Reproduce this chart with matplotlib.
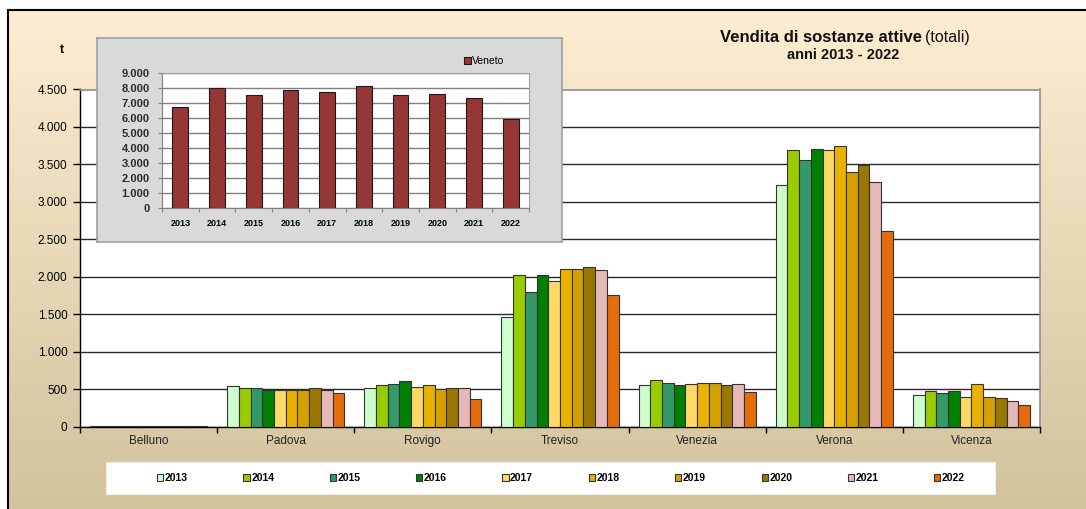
import matplotlib.pyplot as plt
import matplotlib as mpl
import numpy as np
from matplotlib.patches import Rectangle
from matplotlib.lines import Line2D
from matplotlib.ticker import FuncFormatter, FixedLocator

mpl.rcParams['font.family'] = ['Liberation Sans', 'DejaVu Sans']

# data (t)
anni = ['2013', '2014', '2015', '2016', '2017', '2018', '2019', '2020', '2021', '2022']
province = ['Belluno', 'Padova', 'Rovigo', 'Treviso', 'Venezia', 'Verona', 'Vicenza']
belluno = [14, 14, 13, 13, 13, 14, 13, 13, 13, 12]
padova = [544, 517, 517, 495, 490, 490, 490, 517, 490, 447]
rovigo = [513, 557, 575, 607, 535, 557, 500, 513, 513, 366]
treviso = [1469, 2021, 1798, 2021, 1945, 2110, 2110, 2136, 2092, 1762]
venezia = [557, 624, 588, 557, 571, 588, 588, 557, 571, 459]
verona = [3227, 3694, 3565, 3708, 3694, 3752, 3401, 3494, 3267, 2617]
vicenza = [423, 477, 446, 477, 401, 571, 401, 383, 347, 294]
veneto = [6743, 7965, 7500, 7852, 7699, 8137, 7500, 7586, 7301, 5927]

colori = ['#CCFFCC', '#99CC00', '#339966', '#008000', '#FFD966',
          '#E9B200', '#D5A100', '#997700', '#E6B8B7', '#E46C0A']

W, H = 1086, 509
fig = plt.figure(figsize=(W / 100, H / 100), dpi=100, facecolor='white')


def fx(px):
    return px / W


def fy(py):
    return 1 - py / H


def migliaia(v, p):
    return f'{int(v):,}'.replace(',', '.')


# background with gradient
bg = fig.add_axes([fx(8), 0, 1 - fx(8), fy(10)], zorder=-10)
top = np.array([253, 237, 210]) / 255
bot = np.array([210, 195, 157]) / 255
t = np.linspace(0, 1, 256)[:, None]
grad = (top[None, :] * (1 - t) + bot[None, :] * t)[:, None, :]
bg.imshow(grad, aspect='auto', extent=[0, 1, 0, 1])
bg.set_axis_off()
fig.add_artist(Line2D([fx(8), 1], [fy(10), fy(10)], color='black', lw=1.5))
fig.add_artist(Line2D([fx(8), fx(8)], [0, fy(10)], color='black', lw=1.5))

# main chart
ax = fig.add_axes([fx(80), fy(426.7), fx(1040) - fx(80), fy(89.5) - fy(426.7)])
ax.set_facecolor('white')
valori = np.array([belluno, padova, rovigo, treviso, venezia, verona, vicenza])
x = np.arange(len(province))
n = len(anni)
bw = 0.854 / n
for i in range(n):
    ax.bar(x - 0.427 + bw * (i + 0.5), valori[:, i], width=bw, color=colori[i],
           edgecolor='#333333', linewidth=0.8, zorder=3, label=anni[i])
ax.set_xlim(-0.5, len(province) - 0.5)
ax.set_ylim(0, 4500)
ax.set_yticks(np.arange(0, 4501, 500))
ax.yaxis.set_major_formatter(FuncFormatter(migliaia))
ax.yaxis.grid(True, color='#2A2A2A', linewidth=1)
ax.set_axisbelow(True)
ax.xaxis.set_major_locator(FixedLocator(np.arange(-0.5, len(province), 1)))
ax.xaxis.set_minor_locator(FixedLocator(x))
ax.set_xticklabels([])
ax.set_xticklabels(province, minor=True)
ax.tick_params(axis='x', which='minor', length=0, pad=6, labelsize=8.5, labelcolor='#222222')
ax.tick_params(axis='x', which='major', length=4, width=1, direction='out')
ax.tick_params(axis='y', length=5, width=1, direction='out', labelsize=8.5, pad=4)
for s in ['left', 'bottom']:
    ax.spines[s].set_color('black')
    ax.spines[s].set_linewidth(1)
for s in ['top', 'right']:
    ax.spines[s].set_color('#909090')
    ax.spines[s].set_linewidth(1.2)

fig.text(fx(62), fy(50), 't', fontsize=9, fontweight='bold', ha='center', va='center')

# title
fig.text(fx(922), fy(37.5), 'Vendita di sostanze attive', fontsize=12, fontweight='bold',
         ha='right', va='center', color='#111111')
fig.text(fx(925), fy(37.5), '(totali)', fontsize=11.5, ha='left', va='center', color='#111111')
fig.text(fx(843), fy(55), 'anni 2013 - 2022', fontsize=10.5, fontweight='bold',
         ha='center', va='center', color='#111111')

# legend
fig.add_artist(Rectangle((fx(106), fy(494)), fx(995) - fx(106), fy(462) - fy(494),
                         transform=fig.transFigure, facecolor='white', edgecolor='#EEEEEE', lw=0.8))
handles, labels = ax.get_legend_handles_labels()
fig.legend(handles, labels, loc='center', ncol=n, mode='expand',
           bbox_to_anchor=(fx(157), fy(494), fx(965) - fx(157), fy(462) - fy(494)),
           frameon=False, handlelength=0.6, handleheight=0.6,
           handletextpad=0.15, borderaxespad=0, borderpad=0,
           prop={'family': ['Liberation Sans Narrow', 'Liberation Sans'], 'weight': 'bold', 'size': 7.5})

# inset: Veneto
box = fig.add_axes([fx(97), fy(242), fx(562) - fx(97), fy(38) - fy(242)], zorder=5)
box.set_facecolor('#D9D9D9')
box.set_xticks([])
box.set_yticks([])
for s in box.spines.values():
    s.set_color('#A0A0A0')
    s.set_linewidth(1.2)

ins = fig.add_axes([fx(162), fy(208.3), fx(529) - fx(162), fy(72.7) - fy(208.3)], zorder=6)
ins.set_facecolor('white')
xi = np.arange(len(anni))
ins.bar(xi, veneto, width=0.43, color='#953735', edgecolor='#1A1A1A', linewidth=0.8,
        zorder=3, label='Veneto')
ins.set_xlim(-0.5, len(anni) - 0.5)
ins.set_ylim(0, 9000)
ins.set_yticks(np.arange(0, 9001, 1000))
ins.yaxis.set_major_formatter(FuncFormatter(migliaia))
ins.yaxis.grid(True, color='#808080', linewidth=1)
ins.set_axisbelow(True)
ins.xaxis.set_major_locator(FixedLocator(np.arange(-0.5, len(anni), 1)))
ins.xaxis.set_minor_locator(FixedLocator(xi))
ins.set_xticklabels([])
ins.set_xticklabels(anni, minor=True)
ins.tick_params(axis='x', which='minor', length=0, pad=8, labelsize=6.5)
ins.tick_params(axis='x', which='major', length=3, width=0.8, color='#808080')
ins.tick_params(axis='y', length=3, width=0.8, color='#808080', labelsize=8, pad=6,
                labelcolor='#2A2A2A')
for lab in ins.get_xticklabels(minor=True):
    lab.set_fontweight('bold')
for lab in ins.get_yticklabels():
    lab.set_fontweight('bold')
for s in ['left', 'bottom']:
    ins.spines[s].set_color('#808080')
for s in ['top', 'right']:
    ins.spines[s].set_color('#A0A0A0')
ins.legend(loc='center left', frameon=False, handlelength=0.7, handleheight=0.7,
           handletextpad=0.1, borderaxespad=0, borderpad=0,
           bbox_to_anchor=(fx(464), fy(61)), bbox_transform=fig.transFigure,
           prop={'family': ['Liberation Sans Narrow', 'Liberation Sans'], 'size': 7.5})
fig.text(fx(124), fy(55), 't', fontsize=7, fontweight='bold', ha='center', va='center')

fig.savefig('out.png', dpi=100)
